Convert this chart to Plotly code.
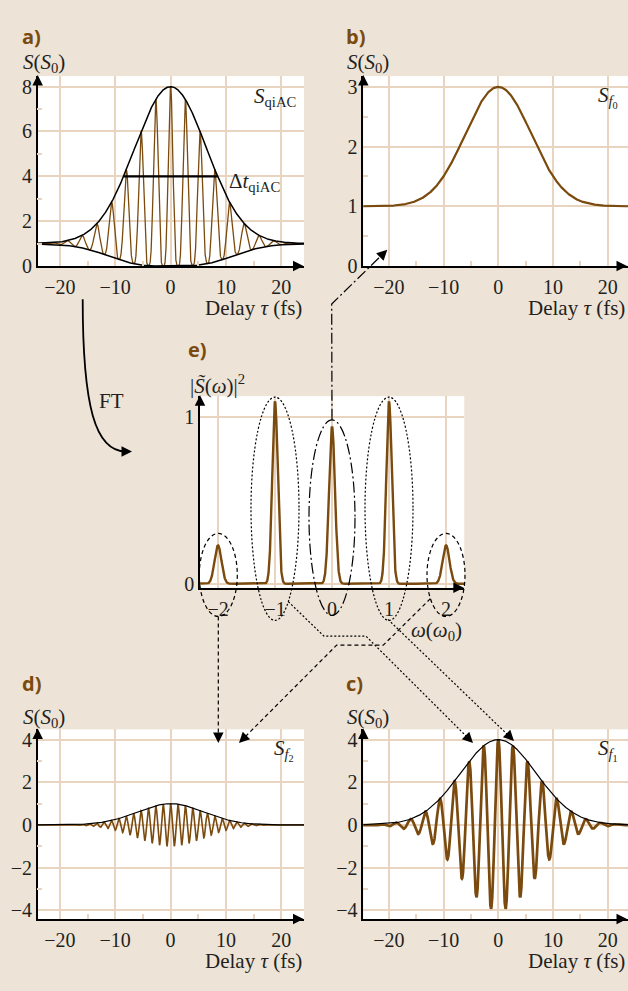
import numpy as np
import plotly.graph_objects as go

# ---- values ----
TAU_TICKS = [-20, -10, 0, 10, 20]
TAU_MINOR = [-15, -5, 5, 15]
A_YTICKS = [0, 2, 4, 6, 8]
A_YMINOR = [1, 3, 5, 7]
B_YTICKS = [0, 1, 2, 3]
B_YMINOR = [0.5, 1.5, 2.5]
CD_YTICKS = [-4, -2, 0, 2, 4]
CD_YMINOR = [-3, -1, 1, 3]
E_XTICKS = [-2, -1, 0, 1, 2]
E_YTICKS = [0, 1]

CARRIER_PERIOD = 2.67          # fs
F0_BASE = 1.0                  # S_f0 far from zero delay
COMP_PEAKS = [2.0, 4.0, 1.0]   # f0 bump, f1 amplitude, f2 amplitude
COMP_WIDTHS = [8.5, 9.8, 8.5]  # 1/e half widths (fs)
FWHM_EDGES = [-8.5, 8.5]       # Delta t_qiAC bar
FWHM_LEVEL = 4

SPEC_POS = [-2, -1, 0, 1, 2]
SPEC_HEIGHT = [0.23, 1.09, 0.94, 1.09, 0.23]
SPEC_SIGMA = [0.06, 0.048, 0.052, 0.048, 0.06]

# ---- styling ----
W, H = 628, 991
BG = "#ede3d6"
GRID = "#e8d4bf"
BROWN = "#7a4a0e"
INK = "#231f20"
SERIF = "Liberation Serif"


def px(x):
    return x / W


def py(y):
    return 1 - y / H


tau = np.linspace(-25, 25, 5000)
w0 = 2 * np.pi / CARRIER_PERIOD
g0 = np.exp(-(tau / COMP_WIDTHS[0]) ** 2)
g1 = np.exp(-(tau / COMP_WIDTHS[1]) ** 2)
g2 = np.exp(-(tau / COMP_WIDTHS[2]) ** 2)
s_f0 = F0_BASE + COMP_PEAKS[0] * g0
env_f1 = COMP_PEAKS[1] * g1
env_f2 = COMP_PEAKS[2] * g2
s_f1 = env_f1 * np.cos(w0 * tau)
s_f2 = env_f2 * np.cos(2 * w0 * tau)
s_qiac = s_f0 + s_f1 + s_f2
upper = s_f0 + env_f1 + env_f2
lower = s_f0 - env_f1 + env_f2

omega = np.linspace(-2.4, 2.4, 3000)
spectrum = np.zeros_like(omega)
for p, h, s in zip(SPEC_POS, SPEC_HEIGHT, SPEC_SIGMA):
    spectrum += h * np.exp(-((omega - p) / s) ** 2 / 2)

fig = go.Figure()


def line(x, y, ax, color, width):
    fig.add_trace(go.Scatter(x=x, y=y, mode="lines", xaxis="x" + ax, yaxis="y" + ax,
                             line=dict(color=color, width=width), hoverinfo="skip",
                             showlegend=False))


# a) qiAC
line(tau, s_qiac, "", BROWN, 1.3)
line(tau, upper, "", "black", 1.5)
line(tau, lower, "", "black", 1.5)
line(FWHM_EDGES, [FWHM_LEVEL, FWHM_LEVEL], "", "black", 2.2)
# b) S_f0
line(tau, s_f0, "2", BROWN, 2.2)
# c) S_f1
line(tau, s_f1, "3", BROWN, 2.7)
line(tau, env_f1, "3", "black", 1.2)
# d) S_f2
line(tau, s_f2, "4", BROWN, 1.6)
line(tau, env_f2, "4", "black", 1.2)
# e) spectrum
line(omega, spectrum, "5", BROWN, 2.4)

# panel geometry in pixels: (left, right, top, bottom)
PANELS = {
    "": (37.7, 304, 76, 268.3),
    "2": (363.3, 628, 76, 268.3),
    "3": (363.3, 628, 737.3, 929.3),
    "4": (37.7, 304, 737.3, 929.3),
    "5": (200, 464.3, 400, 594),
}
XRANGES = {"": [-24, 24.1], "2": [-24.66, 23.69], "3": [-24.66, 23.69],
           "4": [-24, 24.1], "5": [-2.316, 2.32]}
YRANGES = {"": [0, 8.47], "2": [0, 3.18], "3": [-4.41, 4.48],
           "4": [-4.41, 4.48], "5": [-0.024, 1.122]}
XTICKS = {"": TAU_TICKS, "2": TAU_TICKS, "3": TAU_TICKS, "4": TAU_TICKS, "5": E_XTICKS}
YTICKS = {"": A_YTICKS, "2": B_YTICKS, "3": CD_YTICKS, "4": CD_YTICKS, "5": E_YTICKS}
XMINOR = {"": TAU_MINOR, "2": TAU_MINOR, "3": TAU_MINOR, "4": TAU_MINOR, "5": []}
YMINOR = {"": A_YMINOR, "2": B_YMINOR, "3": CD_YMINOR, "4": CD_YMINOR, "5": []}

common = dict(showgrid=True, gridcolor=GRID, gridwidth=1.5, zeroline=False,
              showline=True, linecolor="black", linewidth=1.5, ticks="",
              tickfont=dict(family=SERIF, size=20, color=INK), fixedrange=True)

layout_axes = {}
annotations = []
ARROW = dict(showarrow=True, arrowhead=2, arrowsize=1.4, arrowwidth=1.5,
             arrowcolor="black", text="", xref="paper", yref="paper")
for k, (l, r, t, b) in PANELS.items():
    layout_axes["xaxis" + k] = dict(
        common, domain=[px(l), px(r)], range=XRANGES[k], anchor="y" + k,
        tickvals=XTICKS[k], ticklabelstandoff=2,
        minor=dict(tickvals=XMINOR[k], ticks="inside", ticklen=5, tickcolor=GRID,
                   tickwidth=1.5, showgrid=False))
    layout_axes["yaxis" + k] = dict(
        common, domain=[py(b), py(t)], range=YRANGES[k], anchor="x" + k,
        tickvals=YTICKS[k],
        minor=dict(tickvals=YMINOR[k], ticks="inside", ticklen=5, tickcolor=GRID,
                   tickwidth=1.5, showgrid=False))
    # axis arrowheads
    annotations.append(dict(ARROW, x=px(l), y=py(t - 1), ax=0, ay=10))
    annotations.append(dict(ARROW, x=px(r - 0.5), y=py(b), ax=-10, ay=0))


def text(x, y, s, size=21, xanchor="left", family=SERIF, color=INK):
    annotations.append(dict(x=px(x), y=py(y), xref="paper", yref="paper", text=s,
                            showarrow=False, xanchor=xanchor, yanchor="middle",
                            font=dict(family=family, size=size, color=color)))


for lbl, x, y in [("a)", 20, 36), ("b)", 344, 36), ("e)", 186, 353),
                  ("d)", 20, 691), ("c)", 344, 691)]:
    text(x, y, "<b>" + lbl + "</b>", size=20, family="Open Sans", color=BROWN)

ylab = "<i>S</i>(<i>S</i><sub>0</sub>)"
for x, y in [(21, 63), (345, 63), (21, 726), (345, 726)]:
    text(x, y, ylab)
for x, y in [(304, 311), (627, 311), (304, 972), (627, 972)]:
    text(x, y, "Delay <i>τ</i> (fs)", xanchor="right")
text(252, 97, "<i>S</i><sub>qiAC</sub>")
text(227, 183, "Δ<i>t</i><sub>qiAC</sub>")
text(596, 97, "<i>S</i><sub><i>f</i><sub>0</sub></sub>")
text(272, 758, "<i>S</i><sub><i>f</i><sub>2</sub></sub>")
text(596, 758, "<i>S</i><sub><i>f</i><sub>1</sub></sub>")
text(188, 388, "|<i>S\u0303</i>(<i>ω</i>)|<sup>2</sup>")
text(409, 638, "<i>ω</i>(<i>ω</i><sub>0</sub>)")
text(97, 405, "FT")

shapes = []


def ellipse(cx, cy, rx, ry, dash):
    shapes.append(dict(type="circle", xref="paper", yref="paper",
                       x0=px(cx - rx), x1=px(cx + rx), y0=py(cy + ry), y1=py(cy - ry),
                       line=dict(color="black", width=1.2, dash=dash)))


def poly(points, dash, width=1.2):
    path = "M " + " L ".join(f"{px(x)},{py(y)}" for x, y in points)
    shapes.append(dict(type="path", xref="paper", yref="paper", path=path,
                       line=dict(color="black", width=width, dash=dash)))


DASH = "4px,3px"
DOT = "2px,2px"
DASHDOT = "11px,3px,2px,3px"
ellipse(218.3, 581, 19, 42, DASH)
ellipse(446, 581, 19, 42, DASH)
ellipse(275, 514, 24, 113, DOT)
ellipse(389, 514, 24, 113, DOT)
ellipse(332, 523, 23, 99, DASHDOT)

poly([(332, 424), (331.7, 306.7), (384, 255)], DASHDOT)
poly([(218.3, 623), (218.3, 745)], DASH)
poly([(430.4, 605), (383.3, 652), (336.7, 652), (243, 747)], DASH)
poly([(288.3, 608), (324, 643), (366, 643), (469, 747)], DOT)
poly([(388, 626), (510, 745)], DOT)

# FT curved arrow
shapes.append(dict(type="path", xref="paper", yref="paper",
                   path=f"M {px(82.7)},{py(302)} C {px(82.7)},{py(410)} "
                        f"{px(95)},{py(456)} {px(126)},{py(456)}",
                   line=dict(color="black", width=1.8)))

# arrowheads of connectors: (tip_x, tip_y, ax, ay)
for tx, ty, ax, ay in [(387.3, 251.7, -7, 7), (218.3, 751, 0, -9),
                       (239, 751, 7, -7), (473, 751, -7, -7), (514, 749, -7, -7),
                       (132, 456, -9, 0)]:
    annotations.append(dict(ARROW, x=px(tx), y=py(ty), ax=ax, ay=ay))

fig.update_layout(
    width=W, height=H, margin=dict(l=0, r=0, t=0, b=0),
    paper_bgcolor=BG, plot_bgcolor="white", showlegend=False,
    annotations=annotations, shapes=shapes, **layout_axes,
)

fig.write_html(
    "out.html",
    config={"displayModeBar": False},
    post_script="document.body.style.margin='0';document.body.style.background='%s';" % BG,
)
